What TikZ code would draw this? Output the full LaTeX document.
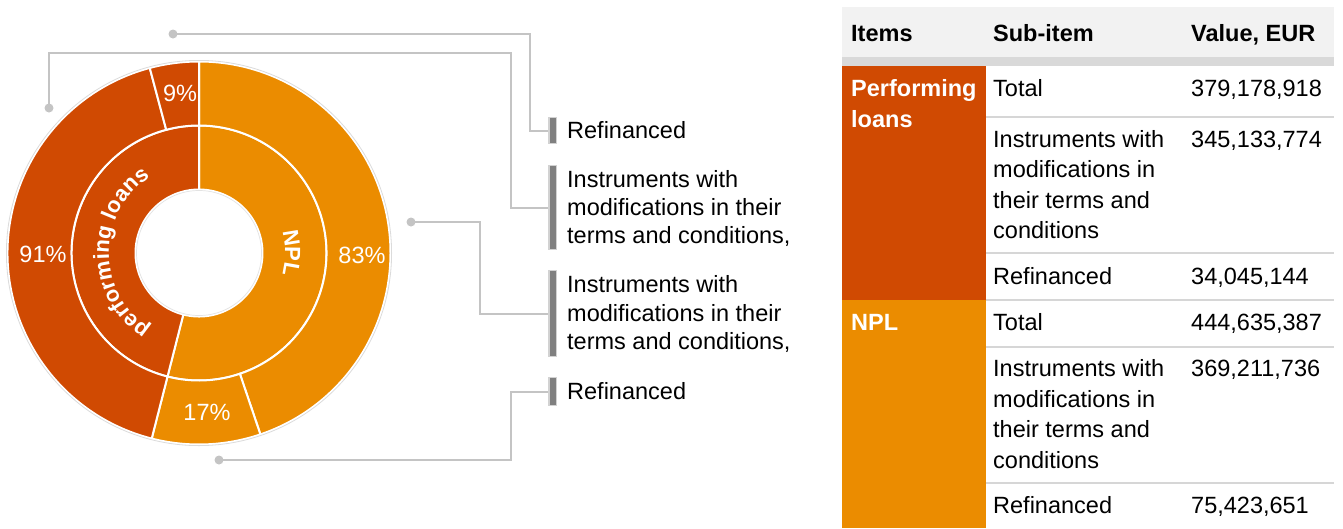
\documentclass[tikz,border=0pt]{standalone}
\usepackage{fontspec}
\setmainfont{Liberation Sans}
\usetikzlibrary{decorations.text}

\definecolor{pwcdark}{HTML}{D04A02}
\definecolor{pwclight}{HTML}{EB8C00}
\definecolor{hdrbg}{HTML}{F2F2F2}
\definecolor{hdrband}{HTML}{D9D9D9}
\definecolor{rulegray}{HTML}{D6D6D6}
\definecolor{conngray}{HTML}{C4C4C4}
\definecolor{barfill}{HTML}{808080}
\definecolor{barframe}{HTML}{D2D2D2}

% annular sector: colour, start angle, end angle, inner radius, outer radius
\newcommand\ringsector[5]{%
  \filldraw[fill=#1, draw=white, line width=2pt]
    (#2:#5) arc[start angle=#2, end angle=#3, radius=#5]
    -- (#3:#4) arc[start angle=#3, end angle=#2, radius=#4] -- cycle;}

\tikzset{
  pct/.style={text=white, inner sep=0pt, font=\fontsize{23.5}{28}\selectfont},
  dotmark/.style={circle, fill=conngray, minimum size=9pt, inner sep=0pt},
  legbar/.style={rectangle, draw=barframe, fill=barfill, line width=1.5pt,
                 minimum width=7.5pt, inner sep=0pt},
  legtext/.style={anchor=west, inner sep=0pt, align=left,
                  font=\fontsize{23.5}{28.3}\selectfont},
  connector/.style={draw=conngray, line width=2pt},
  cell/.style={anchor=north west, inner sep=0pt, align=left,
               font=\fontsize{23.5}{30.5}\selectfont},
  hdr/.style={cell, font=\fontsize{23.5}{30.5}\selectfont\bfseries},
  grp/.style={cell, text=white, font=\fontsize{23.5}{30.5}\selectfont\bfseries},
  rowrule/.style={draw=rulegray, line width=1.2pt}
}

\begin{document}
\begin{tikzpicture}[x=1pt, y=-1pt]
\useasboundingbox (0,0) rectangle (1343,528);

% ---------------- sunburst donut ----------------
\begin{scope}[shift={(199,253)}, y=1pt]
  % inner ring: item shares
  \ringsector{pwclight}{90}{-104.3}{63.5}{127.5}
  \ringsector{pwcdark}{255.7}{90}{63.5}{127.5}
  % outer ring: sub-item shares
  \ringsector{pwclight}{90}{-71.3}{127.5}{191.5}
  \ringsector{pwclight}{-71.3}{-104.3}{127.5}{191.5}
  \ringsector{pwcdark}{255.7}{104.9}{127.5}{191.5}
  \ringsector{pwcdark}{104.9}{90}{127.5}{191.5}
  \draw[gray!28, line width=0.8pt] (0,0) circle[radius=192.6];
  \filldraw[fill=white, draw=gray!22, line width=0.7pt] (0,0) circle[radius=62.5];
  % ring captions written along the arcs
  \path[decorate, decoration={text along path, text align=center, text color=white,
        text={|\fontsize{22}{24}\selectfont\bfseries|performing loans}}]
    (250:90) arc[start angle=250, end angle=110, radius=90];
  \path[decorate, decoration={text along path, text align=center, text color=white,
        text={|\fontsize{22}{24}\selectfont\bfseries|NPL}}]
    (60:86) arc[start angle=60, end angle=-60, radius=86];
\end{scope}

\node[pct] (p9)  at (180,93.5) {9\%};
\node[pct] (p91) at (43,254.5) {91\%};
\node[pct] (p83) at (362,255) {83\%};
\node[pct] (p17) at (207,412) {17\%};

% ---------------- legend ----------------
\node[legbar, minimum height=26pt] (b1) at (552.5,130.5) {};
\node[legbar, minimum height=84pt] (b2) at (552.5,207.5) {};
\node[legbar, minimum height=86pt] (b3) at (552.5,313.5) {};
\node[legbar, minimum height=28pt] (b4) at (552.5,391.5) {};

\node[legtext] (t1) at (567,130.5) {Refinanced};
\node[legtext] (t2) at (567,208.5) {Instruments with\\modifications in their\\terms and conditions,};
\node[legtext] (t3) at (567,314) {Instruments with\\modifications in their\\terms and conditions,};
\node[legtext] (t4) at (567,391.5) {Refinanced};

\node[dotmark] (d1) at (173,34) {};
\node[dotmark] (d2) at (49,108) {};
\node[dotmark] (d3) at (411,222) {};
\node[dotmark] (d4) at (219,460) {};

\draw[connector] (d1.center) -- (530,34) |- (b1.west);
\draw[connector] (d2.center) -- (49,53) -- (511,53) |- (b2.west);
\draw[connector] (d3.center) -- (480,222) |- (b3.west);
\draw[connector] (d4.center) -- (511,460) |- (b4.west);

% ---------------- table ----------------
\fill[hdrbg] (842,7) rectangle (1334,57);
\fill[hdrband] (842,57) rectangle (1334,66);
\fill[pwcdark] (842,66) rectangle (986,300);
\fill[pwclight] (842,300) rectangle (986,528);
\foreach \ry in {117,253,300,347,483}
  \draw[rowrule] (986,\ry) -- (1334,\ry);

\node[hdr] (h1) at (851,20) {\strut Items};
\node[hdr] (h2) at (993,20) {\strut Sub-item};
\node[hdr] (h3) at (1191,20) {\strut Value, EUR};

\node[grp] (g1) at (851,75) {\strut Performing\\loans};
\node[grp] (g2) at (851,309) {\strut NPL};

\node[cell] (s1) at (993,75) {\strut Total};
\node[cell] (s2) at (993,125.6) {\strut Instruments with\\modifications in\\their terms and\\conditions};
\node[cell] (s3) at (993,263) {\strut Refinanced};
\node[cell] (s4) at (993,309) {\strut Total};
\node[cell] (s5) at (993,355) {\strut Instruments with\\modifications in\\their terms and\\conditions};
\node[cell] (s6) at (993,492) {\strut Refinanced};

\node[cell] (v1) at (1191,75) {\strut 379,178,918};
\node[cell] (v2) at (1191,125.6) {\strut 345,133,774};
\node[cell] (v3) at (1191,263) {\strut 34,045,144};
\node[cell] (v4) at (1191,309) {\strut 444,635,387};
\node[cell] (v5) at (1191,355) {\strut 369,211,736};
\node[cell] (v6) at (1191,492) {\strut 75,423,651};
\end{tikzpicture}
\end{document}
